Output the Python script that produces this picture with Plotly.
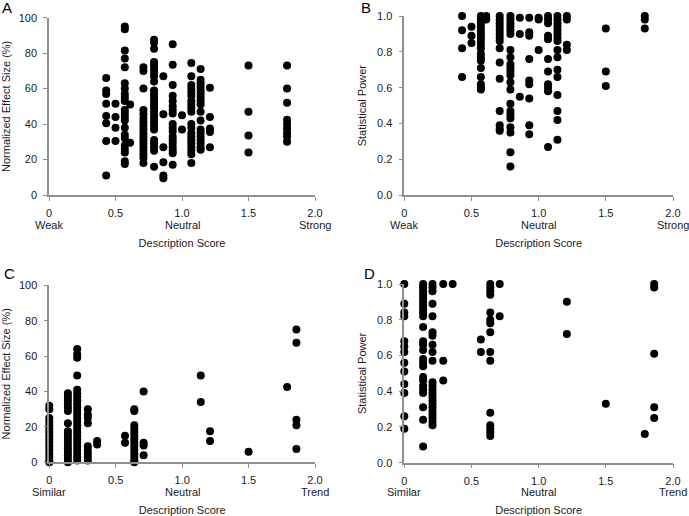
import plotly.graph_objects as go

# Panel A: description score (strong/weak) vs normalized effect size (%)
a_cols = {
    0.43: [66, 59, 57, 51.5, 44.5, 40.5, 30.5, 11],
    0.50: [51.5, 44, 38, 30.5],
    0.57: [95, 93.5, 81.5, 77, 72, 63, 60, 57, 55, 53, 48, 46, 44, 42, 38, 34, 32, 28, 26, 24, 19, 17.5],
    0.61: [51, 29.5],
    0.71: [72, 70, 60, 48, 45.5, 43, 41, 39, 37, 35, 33, 31, 29, 27, 25, 23, 21, 18],
    0.79: [87.5, 86, 82.5, 75, 73, 71, 69, 67, 64, 59, 57, 55, 53, 51, 49, 47, 45, 43, 41, 39, 37, 31, 29, 27, 25, 16],
    0.86: [67, 45.5, 27, 18.5, 11, 9.5],
    0.93: [85, 73.5, 62, 56, 53, 50, 48, 46, 40, 38, 36, 33, 31, 29, 27, 25, 23.5, 17],
    1.00: [45, 37],
    1.07: [74.5, 67, 62, 60, 58, 56, 53, 51, 49, 47, 40, 38, 35, 33, 31, 29, 27, 25, 23, 18],
    1.14: [71, 65, 63, 61, 59, 57, 55, 53, 51, 47, 42, 37, 35, 33, 31, 29, 27, 25.5],
    1.21: [60.5, 44, 37.5, 35.5, 27],
    1.50: [73, 47, 33.5, 24],
    1.79: [73, 60, 52, 42.5, 40, 37.5, 35, 33, 30],
}

# Panel B: description score (strong/weak) vs statistical power
b_cols = {
    0.43: [1.0, 0.92, 0.82, 0.66],
    0.50: [0.94, 0.89, 0.85],
    0.57: [1.0, 0.98, 0.96, 0.94, 0.92, 0.90, 0.88, 0.86, 0.84, 0.82, 0.79, 0.77, 0.75, 0.71, 0.66, 0.62, 0.60, 0.59],
    0.61: [1.0, 0.98],
    0.71: [1.0, 0.98, 0.96, 0.94, 0.92, 0.90, 0.88, 0.86, 0.82, 0.74, 0.65, 0.47, 0.39, 0.37, 0.36],
    0.79: [1.0, 0.98, 0.96, 0.94, 0.92, 0.90, 0.81, 0.77, 0.73, 0.71, 0.69, 0.67, 0.63, 0.59, 0.51, 0.47, 0.45, 0.43, 0.38, 0.35, 0.24, 0.16],
    0.86: [0.99, 0.90, 0.55],
    0.93: [0.99, 0.91, 0.89, 0.76, 0.64, 0.62, 0.54, 0.39, 0.34],
    1.00: [0.99, 0.98, 0.81],
    1.07: [1.0, 0.98, 0.96, 0.89, 0.87, 0.76, 0.69, 0.62, 0.60, 0.58, 0.27],
    1.14: [1.0, 0.98, 0.96, 0.94, 0.92, 0.90, 0.88, 0.86, 0.81, 0.77, 0.70, 0.66, 0.56, 0.47, 0.42, 0.31],
    1.21: [1.0, 0.98, 0.84, 0.81],
    1.50: [0.93, 0.69, 0.61],
    1.79: [1.0, 0.98, 0.93],
}

# Panel C: description score (similar/trend) vs normalized effect size (%)
c_cols = {
    0.00: [32, 30, 25, 23, 21, 19, 17, 15, 13, 11, 9, 7, 5, 3, 1, 0],
    0.14: [39, 37, 35, 33, 31, 29, 22, 17.5, 16, 14, 12, 10, 8, 6, 4, 2, 0],
    0.21: [64, 61, 59, 49, 41, 39, 37, 35, 33, 31, 29, 27, 25, 23, 21, 19, 17, 15, 13, 11, 9, 7, 5, 3, 1],
    0.29: [30, 27, 25, 22, 9, 7, 5, 3, 1],
    0.36: [12, 10],
    0.57: [15, 11],
    0.64: [30, 29, 21, 19, 17, 15, 13, 11, 9, 7, 5, 3, 1, 0],
    0.71: [40, 11, 9.5, 4],
    1.14: [49, 34],
    1.21: [17.5, 12],
    1.50: [6],
    1.79: [42.5],
    1.86: [75, 67.5, 24, 21, 7.5],
}

# Panel D: description score (similar/trend) vs statistical power
d_cols = {
    0.00: [1.0, 0.89, 0.84, 0.82, 0.68, 0.65, 0.62, 0.56, 0.51, 0.44, 0.39, 0.26, 0.19],
    0.14: [1.0, 0.98, 0.96, 0.94, 0.92, 0.90, 0.88, 0.86, 0.84, 0.82, 0.76, 0.68, 0.66, 0.63, 0.58, 0.56, 0.54,
           0.48, 0.46, 0.43, 0.41, 0.39, 0.31, 0.24, 0.09],
    0.21: [1.0, 0.98, 0.96, 0.89, 0.82, 0.73, 0.71, 0.66, 0.62, 0.57, 0.45, 0.43, 0.41, 0.39, 0.37, 0.35, 0.33,
           0.31, 0.29, 0.27, 0.25, 0.23, 0.21],
    0.29: [1.0, 0.57, 0.46],
    0.36: [1.0],
    0.57: [0.69, 0.62],
    0.64: [1.0, 0.98, 0.96, 0.94, 0.84, 0.80, 0.78, 0.73, 0.62, 0.57, 0.28, 0.21, 0.19, 0.17, 0.15],
    0.71: [1.0, 0.82],
    1.21: [0.90, 0.72],
    1.50: [0.33],
    1.79: [0.16],
    1.86: [1.0, 0.98, 0.61, 0.31, 0.25],
}

x_tickvals = [0, 0.5, 1, 1.5, 2]
x_ticktext = ["0", "0.5", "1.0", "1.5", "2.0"]
scale_words_top = {0: "Weak", 1: "Neutral", 2: "Strong"}
scale_words_bottom = {0: "Similar", 1: "Neutral", 2: "Trend"}
effect_ticks = [0, 20, 40, 60, 80, 100]
power_ticks = [0.0, 0.2, 0.4, 0.6, 0.8, 1.0]

FONT = "Liberation Sans, Arial, sans-serif"
AXC = "#8f8f8f"
TXT = "#1a1a1a"


def flatten(cols):
    xs, ys = [], []
    for k, vals in cols.items():
        for v in vals:
            xs.append(k)
            ys.append(v)
    return xs, ys


fig = go.Figure()
panels = [(a_cols, "x", "y"), (b_cols, "x2", "y2"), (c_cols, "x3", "y3"), (d_cols, "x4", "y4")]
for cols, xa, ya in panels:
    xs, ys = flatten(cols)
    fig.add_trace(go.Scatter(x=xs, y=ys, mode="markers", xaxis=xa, yaxis=ya,
                             marker=dict(color="black", size=8, line=dict(width=0)),
                             cliponaxis=False, showlegend=False))

W, H = 689, 516


def xdom(l, r):
    return [l / W, r / W]


def ydom(top, bot):
    return [1 - bot / H, 1 - top / H]


def xax(dom, anchor):
    return dict(domain=dom, anchor=anchor, range=[0, 2], tickvals=x_tickvals, ticktext=x_ticktext,
                automargin=False, ticklabelstandoff=3,
                showline=True, linecolor=AXC, linewidth=1.5, ticks="outside", tickcolor=AXC, ticklen=4,
                showgrid=False, zeroline=False,
                tickfont=dict(family=FONT, size=11, color=TXT),
                title=dict(text="Description Score", font=dict(family=FONT, size=11, color=TXT), standoff=21))


def yax(dom, anchor, tickvals, title, fmt):
    return dict(domain=dom, anchor=anchor, range=[tickvals[0], tickvals[-1]], tickvals=tickvals,
                tickformat=fmt, automargin=False, ticklabelstandoff=4,
                showline=True, linecolor=AXC, linewidth=1.5, ticks="outside", tickcolor=AXC, ticklen=4,
                showgrid=False, zeroline=False,
                tickfont=dict(family=FONT, size=11, color=TXT),
                title=dict(text=title, font=dict(family=FONT, size=11, color=TXT), standoff=8))


fig.update_layout(
    width=W, height=H, margin=dict(l=0, r=0, t=0, b=0, autoexpand=False),
    paper_bgcolor="white", plot_bgcolor="white",
    xaxis=xax(xdom(49, 315), "y"),
    yaxis=yax(ydom(17.7, 195), "x", effect_ticks, "Normalized Effect Size (%)", "d"),
    xaxis2=xax(xdom(404.3, 673), "y2"),
    yaxis2=yax(ydom(16, 195.3), "x2", power_ticks, "Statistical Power", ".1f"),
    xaxis3=xax(xdom(49.3, 315), "y3"),
    yaxis3=yax(ydom(285.3, 462.3), "x3", effect_ticks, "Normalized Effect Size (%)", "d"),
    xaxis4=xax(xdom(404.3, 673), "y4"),
    yaxis4=yax(ydom(284, 462.7), "x4", power_ticks, "Statistical Power", ".1f"),
)

# second row of x tick labels: verbal anchors of the description score
for words, xr, yr in [(scale_words_top, "x", "y"), (scale_words_top, "x2", "y2"),
                      (scale_words_bottom, "x3", "y3"), (scale_words_bottom, "x4", "y4")]:
    for xv, w in words.items():
        fig.add_annotation(text=w, xref=xr, yref=yr + " domain", x=xv, y=0, yshift=-29.5,
                           xanchor="center", yanchor="middle", showarrow=False, borderpad=0,
                           font=dict(family=FONT, size=11, color=TXT))

letters = [("A", 0, 7), ("B", 359, 7), ("C", 2, 273), ("D", 362, 273)]
for txt, px, py in letters:
    fig.add_annotation(text=txt, xref="paper", yref="paper", x=px / W, y=1 - py / H,
                       xanchor="left", yanchor="middle", showarrow=False,
                       font=dict(family=FONT, size=15, color="black"))

fig.write_html("out.html", post_script="document.body.style.margin='0';",
               config={"displayModeBar": False})
